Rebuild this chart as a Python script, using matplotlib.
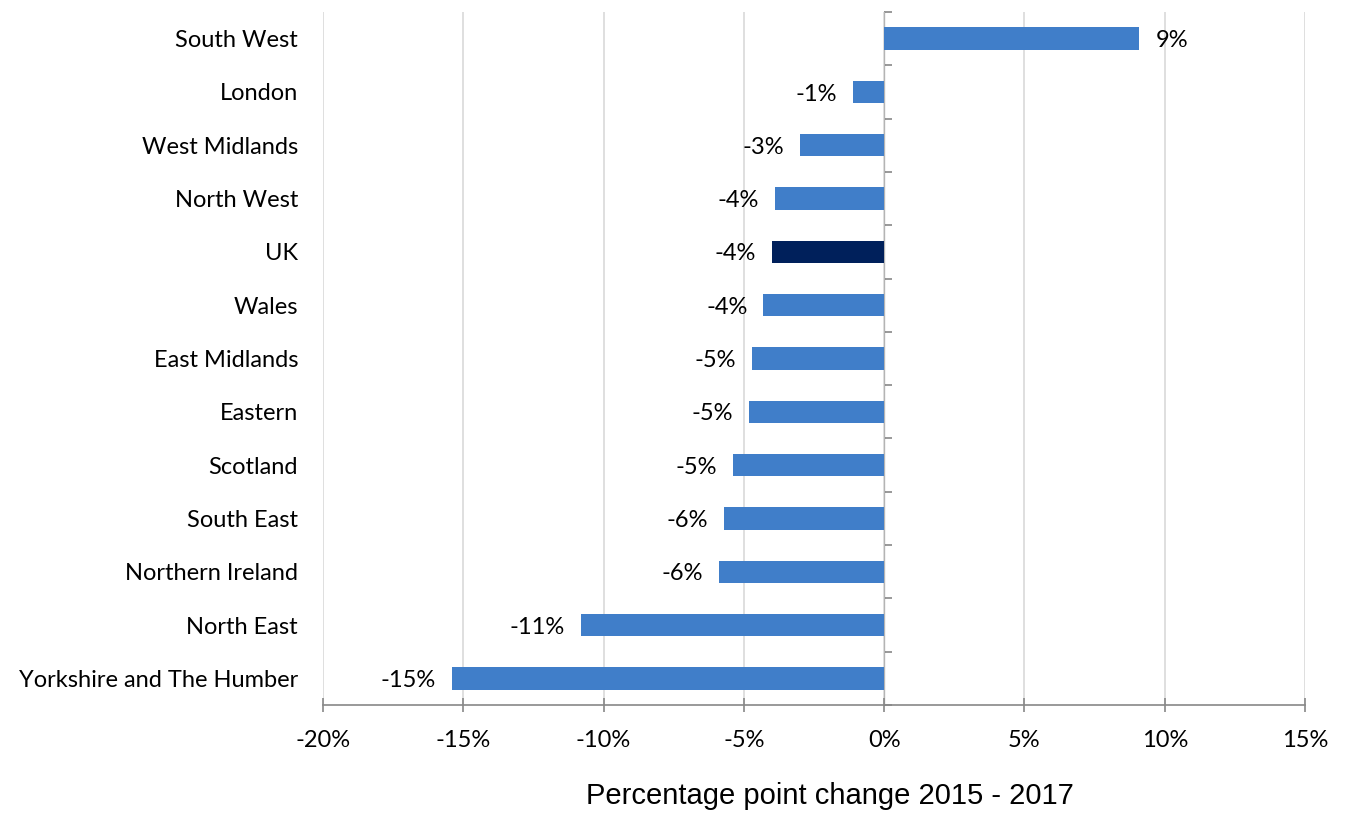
import numpy as np
from matplotlib import pyplot as plt

# regions, bottom to top as drawn
regions = ["Yorkshire and The Humber", "North East", "Northern Ireland", "South East",
           "Scotland", "Eastern", "East Midlands", "Wales", "UK", "North West",
           "West Midlands", "London", "South West"]
change = [-15.4, -10.8, -5.9, -5.7, -5.4, -4.8, -4.7, -4.3, -4.0, -3.9, -3.0, -1.1, 9.1]
xticks = [-20, -15, -10, -5, 0, 5, 10, 15]

label_font = "Lato"
fs = 17
blue = "#407EC9"
navy = "#00205B"

fig = plt.figure(figsize=(13.48, 8.14), dpi=100)
ax = fig.add_axes([323/1348, 1 - 705/814, (1305-323)/1348, (705-12)/814])

y = np.arange(len(regions))
colours = [navy if r == "UK" else blue for r in regions]
ax.barh(y, change, height=0.42, color=colours, zorder=3)

for yi, v in zip(y, change):
    if v >= 0:
        ax.annotate(f"{v:.0f}%", (v, yi), xytext=(11.5, -1.5), textcoords="offset points",
                    ha="left", va="center", fontsize=fs, family=label_font)
    else:
        ax.annotate(f"{v:.0f}%", (v, yi), xytext=(-11.5, -1.5), textcoords="offset points",
                    ha="right", va="center", fontsize=fs, family=label_font)

ax.set_xlim(-20, 15)
ax.set_ylim(-0.5, len(regions) - 0.5)
ax.set_xticks(xticks)
ax.set_xticklabels([f"{t}%" for t in xticks], fontsize=fs, family=label_font)
ax.tick_params(axis="x", direction="inout", length=10, width=1.2, color="#888888", pad=13)
ax.set_yticks(y)
ax.set_yticklabels(regions, fontsize=fs, family=label_font)
ax.tick_params(axis="y", length=0, pad=18)

ax.grid(axis="x", color="#D9D9D9", linewidth=1.2, zorder=0)
for s in ["top", "right", "left"]:
    ax.spines[s].set_visible(False)
ax.spines["bottom"].set_color("#888888")
ax.spines["bottom"].set_linewidth(1.2)

# zero line carrying the category ticks
zero = ax.secondary_yaxis((0 - xticks[0]) / (xticks[-1] - xticks[0]))
zero.set_yticks(np.arange(len(regions) + 1) - 0.5)
zero.set_yticklabels([])
zero.tick_params(length=6, width=1.2, color="#888888")
zero.spines["left"].set_color("#888888")
zero.spines["left"].set_linewidth(1.5)

ax.set_xlabel("Percentage point change 2015 - 2017", fontsize=21,
              family="Liberation Sans")
ax.xaxis.set_label_coords((830 - 323) / (1305 - 323), -(796 - 705) / (705 - 12))
ax.xaxis.label.set_verticalalignment("center")

fig.savefig("out.png", dpi=100)
